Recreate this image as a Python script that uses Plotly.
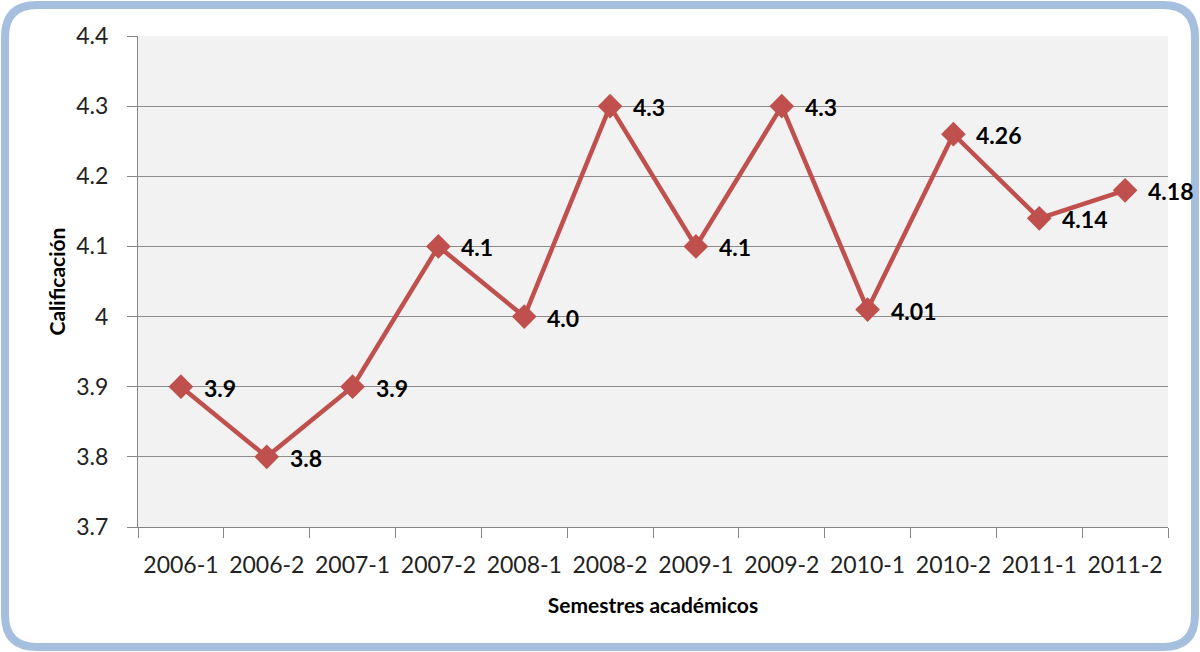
import plotly.graph_objects as go

semestres = ["2006-1", "2006-2", "2007-1", "2007-2", "2008-1", "2008-2",
             "2009-1", "2009-2", "2010-1", "2010-2", "2011-1", "2011-2"]
calificacion = [3.9, 3.8, 3.9, 4.1, 4.0, 4.3, 4.1, 4.3, 4.01, 4.26, 4.14, 4.18]
y_ticks = [3.7, 3.8, 3.9, 4.0, 4.1, 4.2, 4.3, 4.4]
y_tick_text = ["3.7", "3.8", "3.9", "4", "4.1", "4.2", "4.3", "4.4"]

W, H = 1200, 652
L, R, T, B = 138, 32, 36, 125
FONT = "Lato"
RED = "#c0504d"
AXIS = "#868686"


def fmt(v):
    return f"{v:.1f}" if abs(round(v, 1) - v) < 1e-9 else f"{v:.2f}"


fig = go.Figure()
fig.add_trace(go.Scatter(
    x=semestres, y=calificacion, mode="lines+markers",
    line=dict(color=RED, width=4.5),
    marker=dict(symbol="diamond", size=19, color=RED),
    hoverinfo="x+y", showlegend=False,
))

for s, v in zip(semestres, calificacion):
    fig.add_annotation(x=s, y=v, text=f"<b>{fmt(v)}</b>", showarrow=False,
                       xanchor="left", yanchor="middle", xshift=21, yshift=-1,
                       font=dict(family=FONT, size=23, color="#000"))

# rounded outer frame, expressed in paper coordinates
pw, ph = W - L - R, H - T - B


def px(x):
    return (x - L) / pw


def py(y):
    return (H - B - y) / ph


x0, x1, y0, y1, r = 5, 1195, 5, 647, 32
path = (f"M {px(x0 + r)},{py(y0)} L {px(x1 - r)},{py(y0)} "
        f"Q {px(x1)},{py(y0)} {px(x1)},{py(y0 + r)} "
        f"L {px(x1)},{py(y1 - r)} Q {px(x1)},{py(y1)} {px(x1 - r)},{py(y1)} "
        f"L {px(x0 + r)},{py(y1)} Q {px(x0)},{py(y1)} {px(x0)},{py(y1 - r)} "
        f"L {px(x0)},{py(y0 + r)} Q {px(x0)},{py(y0)} {px(x0 + r)},{py(y0)} Z")
fig.add_shape(type="path", path=path, xref="paper", yref="paper",
              line=dict(color="#a7bfde", width=8), layer="below")

fig.update_layout(
    width=W, height=H,
    margin=dict(l=L, r=R, t=T, b=B),
    paper_bgcolor="white", plot_bgcolor="#f2f2f2",
    font=dict(family=FONT, size=23, color="#000"),
    xaxis=dict(
        type="category", tickson="boundaries", ticks="outside", ticklen=10,
        tickcolor=AXIS, showgrid=False, showline=True, linecolor=AXIS,
        linewidth=1, tickfont=dict(family=FONT, size=23, color="#222"),
        ticklabelstandoff=17,
        title=dict(text="<b>Semestres académicos</b>", standoff=21,
                   font=dict(family=FONT, size=21)),
        range=[-0.5, len(semestres) - 0.5], zeroline=False,
    ),
    yaxis=dict(
        range=[3.7, 4.4], tickmode="array", tickvals=y_ticks, ticktext=y_tick_text,
        ticks="outside", ticklen=10, tickcolor=AXIS, ticklabelstandoff=14,
        showgrid=True, gridcolor="#8c8c8c", gridwidth=1,
        showline=True, linecolor=AXIS, linewidth=1, zeroline=False,
        tickfont=dict(family=FONT, size=23, color="#222"),
        title=dict(text="<b>Calificación</b>", standoff=4,
                   font=dict(family=FONT, size=21)),
    ),
)

fig.write_html("out.html")
